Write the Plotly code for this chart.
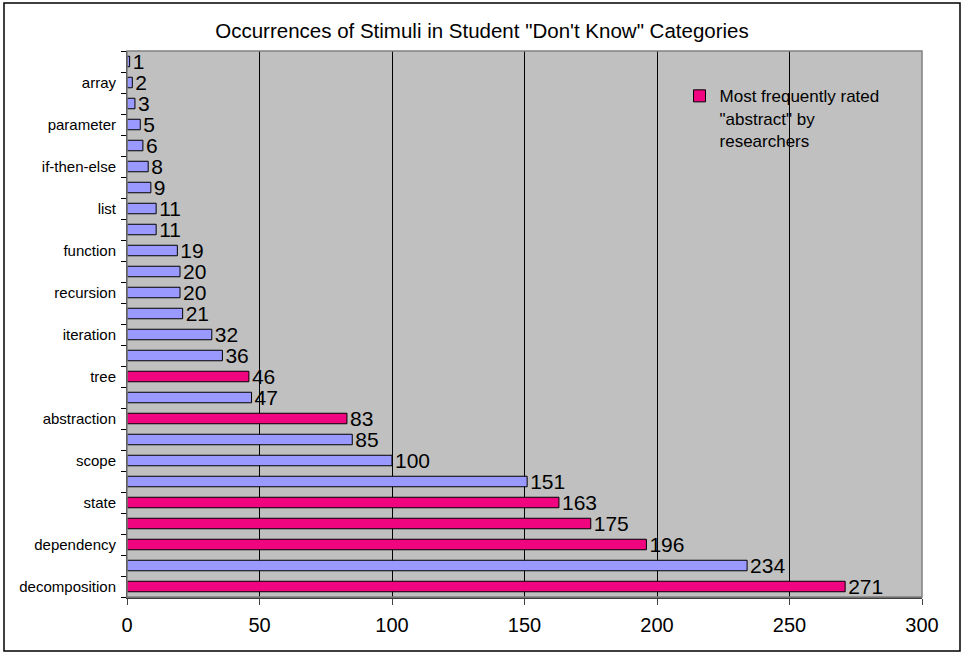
import plotly.graph_objects as go

# Stimulus categories, listed from the bottom bar upward (every other one is labelled)
categories = ["decomposition", "", "dependency", "", "state", "", "scope", "",
              "abstraction", "", "tree", "", "iteration", "", "recursion", "",
              "function", "", "list", "", "if-then-else", "", "parameter", "",
              "array", ""]
occurrences = [271, 234, 196, 175, 163, 151, 100, 85, 83, 47, 46, 36, 32, 21,
               20, 20, 19, 11, 11, 9, 8, 6, 5, 3, 2, 1]
# True where the stimulus was most frequently rated "abstract" by researchers
rated_abstract = [True, False, True, True, True, False, False, False, True,
                  False, True, False, False, False, False, False, False, False,
                  False, False, False, False, False, False, False, False]
x_ticks = [0, 50, 100, 150, 200, 250, 300]

BLUE = "#9999FF"
MAGENTA = "#F0047F"
FONT = "Liberation Sans, Arial, sans-serif"

pos = list(range(len(categories)))


def subset(flag):
    ys = [p for p, a in zip(pos, rated_abstract) if a == flag]
    xs = [v for v, a in zip(occurrences, rated_abstract) if a == flag]
    return xs, ys


fig = go.Figure()
for flag, color, name, show in [
    (False, BLUE, "Other stimuli", False),
    (True, MAGENTA, 'Most frequently rated<br>"abstract" by<br>researchers', True),
]:
    xs, ys = subset(flag)
    fig.add_trace(go.Bar(
        x=xs, y=ys, orientation="h", name=name, showlegend=show,
        width=0.5,
        marker=dict(color=color, line=dict(color="black", width=1)),
        text=[str(v) for v in xs], textposition="outside",
        textfont=dict(family=FONT, size=21, color="black"),
        constraintext="none", cliponaxis=False,
    ))

fig.update_layout(
    width=964, height=654,
    margin=dict(l=127, r=42, t=51, b=57),
    paper_bgcolor="white", plot_bgcolor="#C0C0C0",
    barmode="overlay",
    font=dict(family=FONT, color="black"),
    title=dict(text='Occurrences of Stimuli in Student "Don\'t Know" Categories',
               x=0.5, xanchor="center", y=1 - 31 / 654, yanchor="middle",
               font=dict(size=20.5, family=FONT, color="black")),
    legend=dict(x=0.695, y=0.95, xanchor="left", yanchor="top",
                bgcolor="rgba(0,0,0,0)", borderwidth=0, valign="top",
                font=dict(size=17, family=FONT, color="black")),
    xaxis=dict(range=[0, 300], tickvals=x_ticks, showgrid=True,
               gridcolor="black", gridwidth=1, zeroline=False,
               showline=True, linecolor="#404040", linewidth=2,
               ticks="outside", ticklen=6, tickcolor="#404040", tickwidth=1,
               tickfont=dict(size=20, family=FONT, color="black"),
               ticklabelstandoff=3),
    yaxis=dict(range=[-0.5, len(categories) - 0.5], tickmode="array",
               tickvals=pos, ticktext=categories, ticks="",
               showgrid=False, zeroline=False,
               tickfont=dict(size=15, family=FONT, color="black"),
               ticklabelstandoff=10),
    # overlaid axis carrying the boundary tick marks between categories
    yaxis2=dict(overlaying="y", range=[-0.5, len(categories) - 0.5],
                tickmode="array", tickvals=[p - 0.5 for p in pos] + [len(pos) - 0.5],
                ticktext=[""] * (len(pos) + 1), ticks="outside", ticklen=5,
                tickcolor="black", showgrid=False, zeroline=False,
                showline=True, linecolor="black", linewidth=1, side="left"),
)

# invisible trace so the tick-mark axis is rendered
fig.add_trace(go.Scatter(x=[0], y=[0], yaxis="y2", mode="markers",
                         marker=dict(opacity=0), showlegend=False, hoverinfo="skip"))

# plot-area border and outer frame
fig.add_shape(type="rect", xref="paper", yref="paper", x0=0, x1=1, y0=0, y1=1,
              line=dict(color="#808080", width=1.5), layer="above")
fig.add_shape(type="rect", xref="paper", yref="paper",
              x0=(4 - 127) / 795, x1=(960 - 127) / 795,
              y0=(597 - 651) / 546, y1=(597 - 3) / 546,
              line=dict(color="black", width=1.5))

fig.write_html("out.html")
